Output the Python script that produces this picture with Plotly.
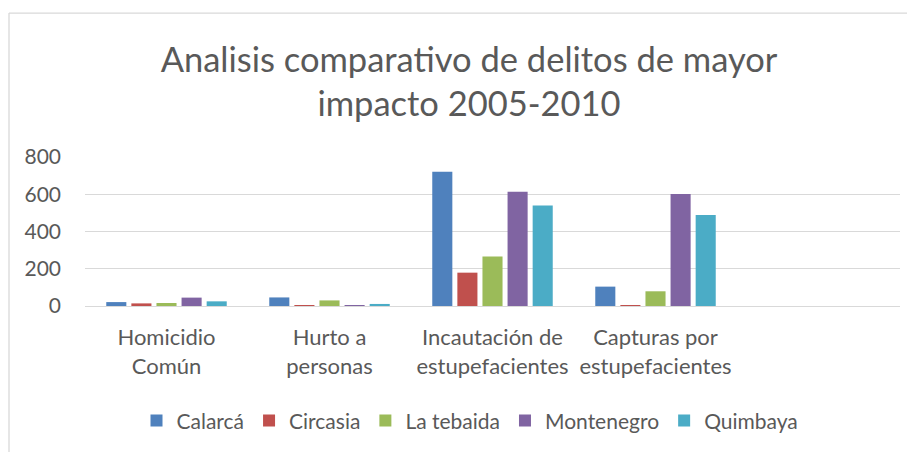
import plotly.graph_objects as go

categories = ["Homicidio<br>Común", "Hurto a<br>personas", "Incautación de<br>estupefacientes",
              "Capturas por<br>estupefacientes", ""]
series_names = ["Calarcá", "Circasia", "La tebaida", "Montenegro", "Quimbaya"]
calarca = [21, 46, 721, 104]
circasia = [14, 5, 179, 3]
la_tebaida = [16, 30, 266, 79]
montenegro = [45, 5, 614, 602]
quimbaya = [25, 11, 539, 489]
colors = ["#4F81BD", "#C0504D", "#9BBB59", "#8064A2", "#4BACC6"]
y_ticks = [0, 200, 400, 600, 800]

OFF = 8  # page body margin
W, H = 915 - OFF, 452 - OFF
L = 85 - OFF
T = 157.3 - OFF
plot_right = 900 - OFF
plot_bottom = 306.7 - OFF
R = W - plot_right
B = H - plot_bottom
pw, ph = W - L - R, H - T - B

font_family = "Lato"
txt = "#595959"

fig = go.Figure()
for name, vals, col in zip(series_names, [calarca, circasia, la_tebaida, montenegro, quimbaya], colors):
    fig.add_trace(go.Bar(
        x=list(range(len(vals))), y=vals, name=name,
        marker=dict(color=col, line=dict(width=0)),
    ))

def px_x(p):
    return (p - OFF - L) / pw

def px_y(p):
    return (plot_bottom - (p - OFF)) / ph

fig.update_layout(
    width=W, height=H,
    margin=dict(l=L, r=R, t=T, b=B, pad=0),
    paper_bgcolor="white", plot_bgcolor="white",
    barmode="group", bargap=0.23, bargroupgap=0.2,
    font=dict(family=font_family, color=txt, size=21),
    title=dict(
        text="Analisis comparativo de delitos de mayor<br>impacto 2005-2010",
        x=(469 - OFF) / W, xanchor="center", xref="container",
        y=1 - (71.5 - OFF) / H, yanchor="middle", yref="container",
        font=dict(size=34.5, color=txt, family=font_family),
    ),
    xaxis=dict(
        tickmode="array", tickvals=list(range(len(categories))), ticktext=categories,
        range=[-0.5, len(categories) - 0.5],
        showgrid=False, zeroline=False, showline=False,
        ticks="", ticklabelstandoff=16,
        tickfont=dict(size=22, color=txt),
    ),
    yaxis=dict(
        range=[0, 800], tickvals=y_ticks,
        showgrid=True, gridcolor="#d9d9d9", gridwidth=1.3,
        zeroline=True, zerolinecolor="#d9d9d9", zerolinewidth=1.3,
        showline=False, ticks="", ticklabelstandoff=23,
        tickfont=dict(size=21, color=txt),
    ),
    legend=dict(
        orientation="h", x=px_x(470), xanchor="center",
        y=px_y(420), yanchor="middle",
        font=dict(size=21, color=txt),
        itemwidth=30, traceorder="normal",
    ),
    showlegend=True,
    shapes=[
        dict(type="line", xref="paper", yref="paper",
             x0=px_x(9), x1=px_x(W + 30), y0=px_y(13), y1=px_y(13),
             line=dict(color="#d9d9d9", width=1.3)),
        dict(type="line", xref="paper", yref="paper",
             x0=px_x(9), x1=px_x(9), y0=px_y(13), y1=px_y(H + 30),
             line=dict(color="#d9d9d9", width=1.3)),
    ],
)

fig.write_html("out.html")
